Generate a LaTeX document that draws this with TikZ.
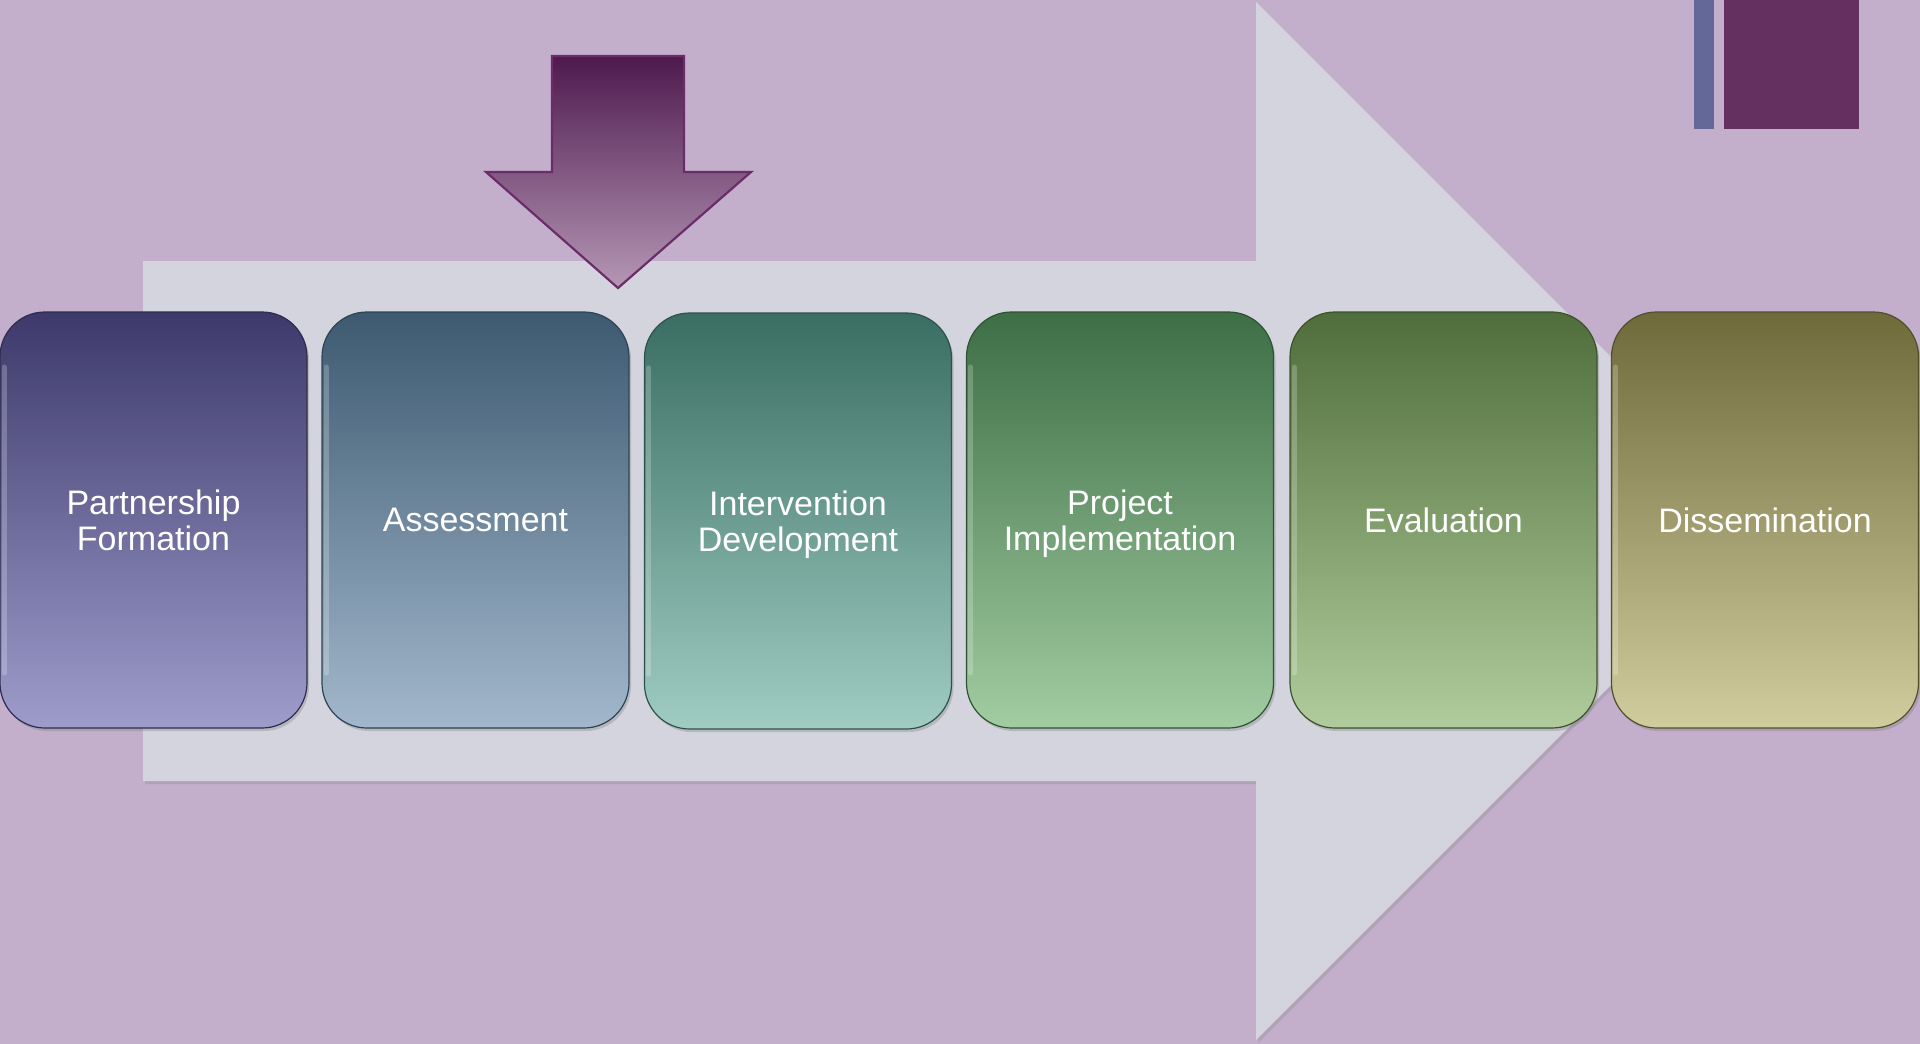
\documentclass[tikz,border=0pt]{standalone}
\usepackage{fontspec}
\setmainfont{Liberation Sans}
\usetikzlibrary{shadows}
\definecolor{bg}{HTML}{C3AECB}
\definecolor{bigarrow}{HTML}{D4D4DE}
\definecolor{barblue}{HTML}{636898}
\definecolor{barpurple}{HTML}{64305F}
\definecolor{dnline}{HTML}{6A2D6A}
\definecolor{dntop}{HTML}{4E1A4E}
\definecolor{dnmid}{HTML}{8A6A8A}
\definecolor{dnbot}{HTML}{B597B5}
\definecolor{aT}{HTML}{3D3A6B}\definecolor{aB}{HTML}{9E9CCB}
\definecolor{bT}{HTML}{3D5A70}\definecolor{bB}{HTML}{A2B7CC}
\definecolor{cT}{HTML}{3A6E62}\definecolor{cB}{HTML}{A0CCC2}
\definecolor{dT}{HTML}{3D6E45}\definecolor{dB}{HTML}{A2CCA1}
\definecolor{eT}{HTML}{4F6E3B}\definecolor{eB}{HTML}{B1CC9C}
\definecolor{fT}{HTML}{6E6A3A}\definecolor{fB}{HTML}{D0CC9E}
\begin{document}
\begin{tikzpicture}[x=1pt,y=-1pt,
  stage/.style 2 args={rounded corners=45pt, minimum width=307pt, minimum height=416pt,
    inner sep=0pt, outer sep=0pt, align=center, text=white,
    font=\fontsize{34}{36}\selectfont,
    top color=#1, bottom color=#2, draw=#1!75!black, line width=1.2pt,
    drop shadow={shadow xshift=2pt, shadow yshift=-3pt, opacity=0.35}},
  hilite/.style={white, opacity=0.22, line width=5pt, line cap=round}]
\useasboundingbox (0,0) rectangle (1920,1044);
\fill[bg] (0,0) rectangle (1920,1044);
% big arrow
\fill[bigarrow, drop shadow={shadow xshift=2pt, shadow yshift=-3pt, opacity=0.25}]
  (143,261) -- (1256,261) -- (1256,2) -- (1775,521) -- (1256,1040) -- (1256,781) -- (143,781) -- cycle;
% top right bars
\fill[barblue] (1694,0) rectangle (1714,129);
\fill[barpurple] (1724,0) rectangle (1859,129);
% down arrow
\draw[dnline, line width=2.2pt, top color=dntop, middle color=dnmid, bottom color=dnbot, line join=miter]
  (552,56) -- (684,56) -- (684,172) -- (751,172) -- (618,288) -- (486,172) -- (552,172) -- cycle;
% stages
\node[stage={aT}{aB}] (s1) at (153.5,520) {Partnership\\\smash{Formation}};
\node[stage={bT}{bB}] (s2) at (475.5,520) {Assessment};
\node[stage={cT}{cB}] (s3) at (798,521) {Intervention\\\smash{Development}};
\node[stage={dT}{dB}] (s4) at (1120,520) {Project\\\smash{Implementation}};
\node[stage={eT}{eB}] (s5) at (1443.5,520) {Evaluation};
\node[stage={fT}{fB}] (s6) at (1765,520) {Dissemination};
\foreach \n in {s1,s2,s3,s4,s5,s6}{
  \draw[hilite] ([xshift=4pt,yshift=-55pt]\n.north west) -- ([xshift=4pt,yshift=55pt]\n.south west);
}
\end{tikzpicture}
\end{document}
